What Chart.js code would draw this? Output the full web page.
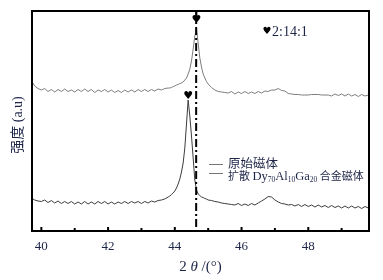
<!DOCTYPE html>
<html>
<head>
<meta charset="utf-8">
<script src="https://cdn.jsdelivr.net/npm/chart.js@4.4.1/dist/chart.umd.min.js"></script>
<style>
    html, body { margin: 0; padding: 0; background: #fff; }
    canvas { display: block; }
</style>
</head>
<body>
<canvas id="xrd-chart-id" width="383" height="280"></canvas>
<script>

// 2θ positions (degrees)
const TWO_THETA = [
    39.75, 39.8, 39.9, 40.0, 40.1, 40.2, 40.3, 40.4, 40.5, 40.6, 40.7, 40.8, 40.9,
    41.0, 41.1, 41.2, 41.3, 41.4, 41.5, 41.6, 41.7, 41.8, 41.9,
    42.0, 42.1, 42.2, 42.3, 42.4, 42.5, 42.6, 42.7, 42.8, 42.9,
    43.0, 43.1, 43.2, 43.3, 43.4, 43.5, 43.6, 43.7, 43.8,
    43.85, 43.9, 43.95, 44.0, 44.05, 44.1, 44.15, 44.2, 44.25, 44.3, 44.35, 44.4, 44.45,
    44.5, 44.55, 44.6, 44.65, 44.7, 44.75, 44.8, 44.85, 44.9, 44.95, 45.0,
    45.1, 45.2, 45.3, 45.4, 45.5, 45.6, 45.7, 45.8, 45.9,
    46.0, 46.1, 46.2, 46.3, 46.4, 46.5, 46.6, 46.7, 46.8, 46.9,
    47.0, 47.1, 47.2, 47.3, 47.4, 47.5, 47.6, 47.7, 47.8, 47.9,
    48.0, 48.1, 48.2, 48.3, 48.4, 48.5, 48.6, 48.7, 48.8, 48.9,
    49.0, 49.1, 49.2, 49.3, 49.4, 49.5, 49.6, 49.7, 49.8
]

// upper trace (grey, peak near 44.65)
const UPPER_INTENSITY = [
    148, 145, 142.5, 141, 142.5, 139.5, 141.5, 139, 141.5, 139.5, 142, 139.5, 141,
    139, 141.5, 139.5, 142, 139.5, 141.5, 138.5, 141, 139.5, 141.5,
    139, 141, 138.5, 140.5, 138.5, 141, 139, 141, 139, 141.5,
    139.5, 141.5, 139.5, 141.5, 140, 142, 141, 142.5, 143,
    143, 143.5, 144.5, 145, 146, 146.5, 147.5, 148, 149, 151, 153, 157, 162,
    170, 182, 195, 202.5, 188, 173, 164, 157, 153, 149.5, 147,
    143.5, 141, 139.5, 139, 138.5, 138, 139.5, 137, 139,
    137.5, 139.5, 137.5, 139, 137.5, 139.5, 138, 140, 139.5, 141,
    141, 142.5, 140.5, 140, 137.5, 137, 136.5, 136.5, 136, 136,
    136, 136.5, 136.5, 136.5, 136, 136, 136, 135, 137, 135.5,
    137, 135, 137, 135, 136.5, 134.5, 136.5, 135, 136
]

// lower trace (dark, peak near 44.4)
const LOWER_INTENSITY = [
    32, 31, 30, 29.5, 31, 28.5, 30.5, 28, 30, 27.5, 29.5, 27.5, 29.5,
    27, 29, 27, 29.5, 27, 29, 27, 29.5, 27.5, 29.5,
    27, 29, 27, 29, 27.5, 29.5, 27.5, 29.5, 28, 29.5,
    27.5, 29.5, 28, 30, 29, 30.5, 31, 32, 34,
    35, 36.5, 38, 40, 43, 47, 52, 59, 68, 83, 107, 131, 115,
    95, 73, 51, 41, 37, 35.5, 34, 33.5, 32.5, 32, 31,
    30.5, 29.5, 29, 28, 27.5, 27, 26.5, 26, 27.5,
    25.5, 27, 25.5, 27.5, 26, 28, 30, 32, 34.5, 34,
    31, 29, 27.5, 27, 26, 26.5, 25, 26.5, 24.5, 26.5,
    24.5, 26, 24, 26, 24, 25.5, 23.5, 25.5, 23.5, 25,
    23, 25, 23, 25, 23, 24.5, 22.5, 24.5, 23
]

const X_TICKS = [40, 42, 44, 46, 48]
const X_MINOR_TICKS = [41, 43, 45, 47, 49]
const X_MIN = 39.72
const X_MAX = 49.82
const REF_LINE = 44.64

const LEGEND_LABELS = ['原始磁体', '扩散 Dy70Al10Ga20 合金磁体']
const PHASE_LABEL = '2:14:1'

const TEXT_COLOR = '#1d2547'
const SERIF = "'Liberation Serif', 'Times New Roman', serif"
const CJK = "'Noto Sans CJK SC', sans-serif"


function heart(ctx, x, y, size) {
    ctx.font = `${size}px 'DejaVu Sans'`
    ctx.textAlign = 'center'
    ctx.textBaseline = 'middle'
    ctx.fillStyle = '#000'
    ctx.fillText('\u2665', x, y)
}

// draws runs of text with mixed fonts / subscripts, left to right
function drawRuns(ctx, x, y, runs) {
    ctx.textAlign = 'left'
    ctx.textBaseline = 'alphabetic'
    ctx.fillStyle = TEXT_COLOR
    let cx = x
    runs.forEach(r => {
        ctx.font = r.font
        ctx.fillText(r.t, cx, y + (r.dy || 0))
        cx += ctx.measureText(r.t).width
    })
    return cx
}

const decorations = {
    id: 'decorations',
    afterDatasetsDraw(chart) {
        const { ctx, chartArea: a, scales: { x, y } } = chart
        ctx.save()

        // inward tick marks on the bottom axis
        ctx.strokeStyle = '#000'
        ctx.lineWidth = 2
        X_TICKS.concat(X_MINOR_TICKS).forEach(v => {
            const px = x.getPixelForValue(v)
            const len = X_TICKS.includes(v) ? 4 : 3
            ctx.beginPath()
            ctx.moveTo(px, a.bottom)
            ctx.lineTo(px, a.bottom - len)
            ctx.stroke()
        })

        // dash-dot reference line
        const lx = x.getPixelForValue(REF_LINE)
        ctx.setLineDash([8, 3, 2, 3])
        ctx.lineWidth = 2
        ctx.beginPath()
        ctx.moveTo(lx, a.top)
        ctx.lineTo(lx, a.bottom)
        ctx.stroke()
        ctx.setLineDash([])

        // frame
        ctx.lineWidth = 2
        ctx.strokeRect(a.left, a.top, a.width, a.height)

        // peak markers
        const upperMax = Math.max(...UPPER_INTENSITY)
        const lowerMax = Math.max(...LOWER_INTENSITY)
        const upperPeak = y.getPixelForValue(upperMax)
        const lowerPeak = y.getPixelForValue(lowerMax)
        const upperX = x.getPixelForValue(TWO_THETA[UPPER_INTENSITY.indexOf(upperMax)])
        const lowerX = x.getPixelForValue(TWO_THETA[LOWER_INTENSITY.indexOf(lowerMax)])
        ctx.lineWidth = 1.5
        ctx.beginPath()
        ctx.moveTo(upperX, a.top)
        ctx.lineTo(upperX, upperPeak - 11)
        ctx.stroke()
        heart(ctx, upperX, upperPeak - 8, 11)
        heart(ctx, lowerX, lowerPeak - 4, 11)

        // phase label
        heart(ctx, 267, 31, 10)
        ctx.font = `14px ${SERIF}`
        ctx.fillStyle = TEXT_COLOR
        ctx.textAlign = 'left'
        ctx.textBaseline = 'alphabetic'
        ctx.fillText(PHASE_LABEL, 272, 36)

        // legend
        ctx.strokeStyle = '#777'
        ctx.lineWidth = 1
        ctx.beginPath()
        ctx.moveTo(209, 164.5); ctx.lineTo(223, 164.5)
        ctx.moveTo(209, 173.5); ctx.lineTo(223, 173.5)
        ctx.stroke()
        drawRuns(ctx, 228, 168, [{ t: LEGEND_LABELS[0], font: `12.5px ${CJK}` }])
        drawRuns(ctx, 228, 180, [
            { t: '扩散 ', font: `11px ${CJK}` },
            { t: 'Dy', font: `12.5px ${SERIF}` },
            { t: '70', font: `7.5px ${SERIF}`, dy: 2 },
            { t: 'Al', font: `12.5px ${SERIF}` },
            { t: '10', font: `7.5px ${SERIF}`, dy: 2 },
            { t: 'Ga', font: `12.5px ${SERIF}` },
            { t: '20', font: `7.5px ${SERIF}`, dy: 2 },
            { t: ' 合金磁体', font: `11px ${CJK}` }
        ])

        // x axis title
        ctx.fillStyle = TEXT_COLOR
        const cx = (a.left + a.right) / 2
        const runs = [
            { t: '2 ', font: `15px ${SERIF}` },
            { t: 'θ', font: `italic 15px ${SERIF}` },
            { t: ' /(°)', font: `15px ${SERIF}` }
        ]
        let w = 0
        runs.forEach(r => { ctx.font = r.font; w += ctx.measureText(r.t).width })
        drawRuns(ctx, cx - w / 2, 271, runs)

        // y axis title
        ctx.save()
        ctx.translate(17, (a.top + a.bottom) / 2 + 4)
        ctx.rotate(-Math.PI / 2)
        const yRuns = [
            { t: '强度', font: `14px ${CJK}` },
            { t: ' (a.u)', font: `14px ${SERIF}` }
        ]
        let yw = 0
        yRuns.forEach(r => { ctx.font = r.font; yw += ctx.measureText(r.t).width })
        drawRuns(ctx, -yw / 2, 5, yRuns)
        ctx.restore()

        ctx.restore()
    }
}


Chart.register(decorations)

const chart = new Chart(document.getElementById('xrd-chart-id'), {
    type: 'line',
    data: {
        datasets: [
            {
                label: LEGEND_LABELS[1],
                data: TWO_THETA.map((t, i) => ({ x: t, y: UPPER_INTENSITY[i] })),
                borderColor: '#7d7d7d',
                borderWidth: 1,
                pointRadius: 0,
                tension: 0
            }, {
                label: LEGEND_LABELS[0],
                data: TWO_THETA.map((t, i) => ({ x: t, y: LOWER_INTENSITY[i] })),
                borderColor: '#3c3c3c',
                borderWidth: 1,
                pointRadius: 0,
                tension: 0
            }
        ]
    },
    options: {
        responsive: false,
        animation: false,
        devicePixelRatio: 1,
        layout: { padding: { left: 32, top: 11, right: 14, bottom: 0 } },
        plugins: {
            legend: { display: false },
            tooltip: { enabled: false }
        },
        scales: {
            x: {
                type: 'linear',
                min: X_MIN,
                max: X_MAX,
                grid: { display: false },
                border: { display: false },
                afterBuildTicks: s => { s.ticks = X_TICKS.map(v => ({ value: v })) },
                afterFit: s => { s.height = 49 },
                ticks: {
                    autoSkip: false,
                    maxRotation: 0,
                    padding: 0,
                    color: TEXT_COLOR,
                    font: { family: 'Liberation Serif', size: 13 }
                }
            },
            y: {
                display: false,
                min: 0,
                max: 220
            }
        }
    }
})
</script>
</body>
</html>
